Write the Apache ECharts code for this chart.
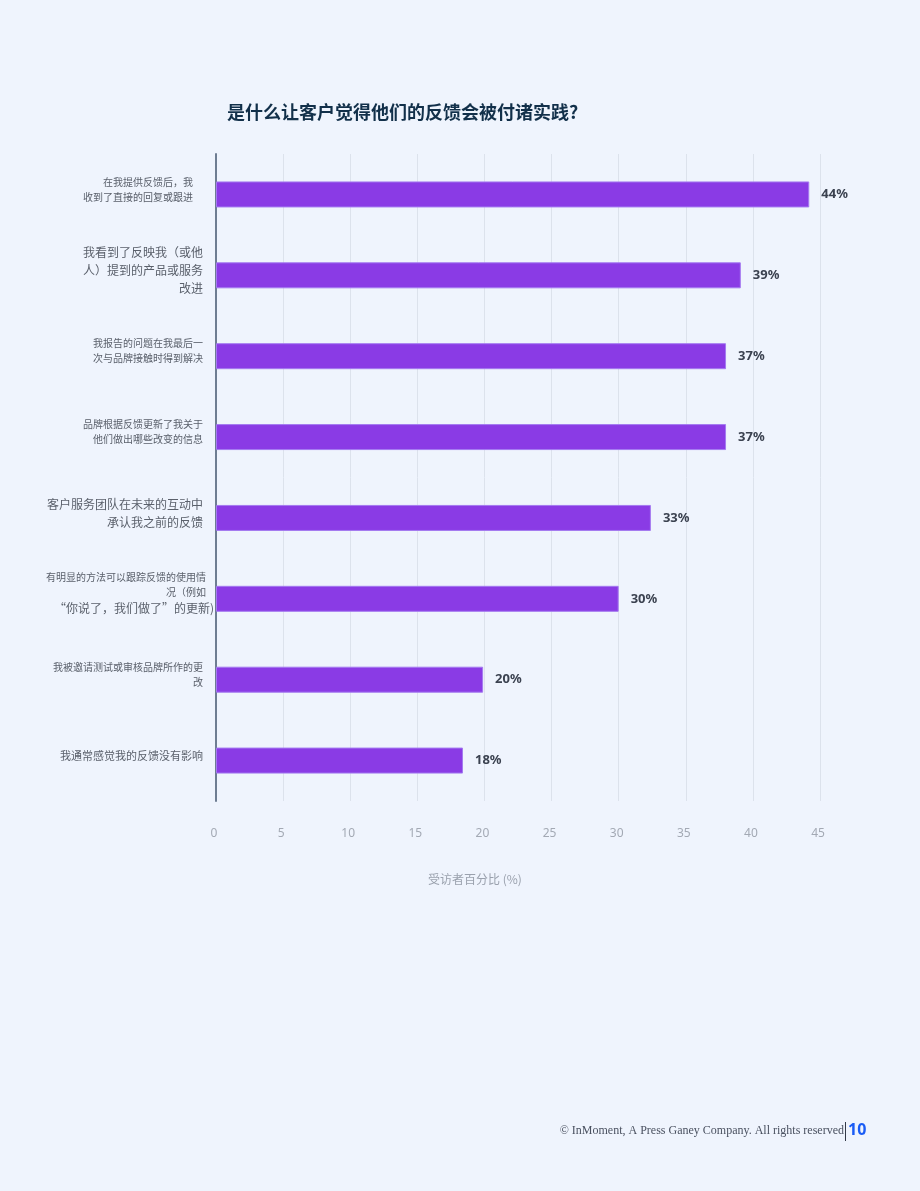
<!DOCTYPE html>
<html>
<head>
<meta charset="utf-8">
<script src="https://cdn.jsdelivr.net/npm/echarts@6/dist/echarts.min.js"></script>
<style>
html,body{margin:0;padding:0;background:#eff4fd;}
#c{width:920px;height:1191px;}
</style>
</head>
<body>
<div id="c"></div>
<script>
var titleText = '是什么让客户觉得他们的反馈会被付诸实践?';
var categories = [
  '在我提供反馈后，我\n收到了直接的回复或跟进',
  '我看到了反映我（或他\n人）提到的产品或服务\n改进',
  '我报告的问题在我最后一\n次与品牌接触时得到解决',
  '品牌根据反馈更新了我关于\n他们做出哪些改变的信息',
  '客户服务团队在未来的互动中\n承认我之前的反馈',
  '有明显的方法可以跟踪反馈的使用情\n况（例如\n“你说了，我们做了”的更新)',
  '我被邀请测试或审核品牌所作的更\n改',
  '我通常感觉我的反馈没有影响'
];
var values = [44.2, 39.1, 38.0, 38.0, 32.4, 30.0, 19.9, 18.4];
var valueLabels = ['44%', '39%', '37%', '37%', '33%', '30%', '20%', '18%'];
var xTicks = [0, 5, 10, 15, 20, 25, 30, 35, 40, 45];
var xAxisName = '受访者百分比 (%)';
var footerText = '© InMoment, A Press Ganey Company. All rights reserved';
var pageNumber = '10';

var chart = echarts.init(document.getElementById('c'), null, {renderer: 'canvas'});

function fmtLabel(v, i) {
  var lines = v.split('\n');
  if (i === 0) return '{s1|' + lines.join('\n') + '}';
  if (i === 1 || i === 4) return '{l|' + lines.join('\n') + '}';
  if (i === 5) return '{s6|' + lines[0] + '\n' + lines[1] + '}\n{l6|' + lines[2] + '}';
  if (i === 7) return '{m|' + lines.join('\n') + '}';
  return '{s|' + lines.join('\n') + '}';
}

var labelFont = '"Noto Sans CJK SC", "Noto Sans", sans-serif';
var option = {
  backgroundColor: '#eff4fd',
  title: {
    text: titleText,
    left: 222,
    top: 98,
    textStyle: {fontSize: 18, fontWeight: 'bold', color: '#12304a', fontFamily: labelFont}
  },
  grid: {left: 216, right: 100, top: 154, bottom: 390, containLabel: false},
  xAxis: {
    type: 'value',
    min: xTicks[0],
    max: xTicks[xTicks.length - 1],
    interval: 5,
    name: xAxisName,
    nameLocation: 'middle',
    nameGap: 72,
    nameTextStyle: {color: '#9aa1ad', fontSize: 12, fontFamily: labelFont, padding: [0, 86, 0, 0]},
    axisLine: {show: false},
    axisTick: {show: false},
    axisLabel: {color: '#a3a9b4', fontSize: 12, margin: 27, padding: [0, 4, 0, 0], fontFamily: '"Noto Sans", sans-serif'},
    splitLine: {show: true, lineStyle: {color: '#dce2ec', width: 1}}
  },
  yAxis: {
    type: 'category',
    inverse: true,
    data: categories,
    axisLine: {show: true, lineStyle: {color: '#6e7d92', width: 2}},
    axisTick: {show: false},
    axisLabel: {
      margin: 1,
      align: 'right',
      padding: [0, 0, 10, 0],
      formatter: fmtLabel,
      rich: {
        s:  {fontSize: 10, lineHeight: 15, color: '#5a606b', fontFamily: labelFont, align: 'right', padding: [0, 12, 0, 0]},
        s1: {fontSize: 10, lineHeight: 15, color: '#5a606b', fontFamily: labelFont, align: 'right', padding: [0, 22, 0, 0]},
        m:  {fontSize: 11, lineHeight: 16, color: '#5a606b', fontFamily: labelFont, align: 'right', padding: [0, 12, 0, 0]},
        l:  {fontSize: 12, lineHeight: 18, color: '#5a606b', fontFamily: labelFont, align: 'right', padding: [0, 12, 0, 0]},
        s6: {fontSize: 10, lineHeight: 15, color: '#5a606b', fontFamily: labelFont, align: 'right', padding: [0, 9, 0, 0]},
        l6: {fontSize: 12, lineHeight: 18, color: '#5a606b', fontFamily: labelFont, align: 'right', padding: [0, 1, 0, 0]}
      }
    }
  },
  series: [{
    type: 'bar',
    data: values,
    barWidth: 26,
    itemStyle: {color: '#8a3be5', borderColor: '#a47af0', borderWidth: 1},
    label: {
      show: true,
      position: 'right',
      distance: 12,
      formatter: function (p) { return valueLabels[p.dataIndex]; },
      color: '#3b4250',
      fontSize: 13,
      fontWeight: 'bold',
      fontFamily: '"Noto Sans", sans-serif'
    },
    silent: true
  }],
  graphic: [
    {
      type: 'text',
      right: 76,
      top: 1125,
      style: {text: footerText, fill: '#4a5160', font: '12px "Liberation Serif", serif', textAlign: 'right'}
    },
    {
      type: 'line',
      shape: {x1: 845.5, y1: 1122, x2: 845.5, y2: 1141},
      style: {stroke: '#333a48', lineWidth: 1}
    },
    {
      type: 'text',
      left: 848,
      top: 1122,
      style: {text: pageNumber, fill: '#1a5cf5', font: 'bold 16px "Noto Sans", sans-serif'}
    }
  ],
  animation: false
};
chart.setOption(option);
</script>
</body>
</html>
